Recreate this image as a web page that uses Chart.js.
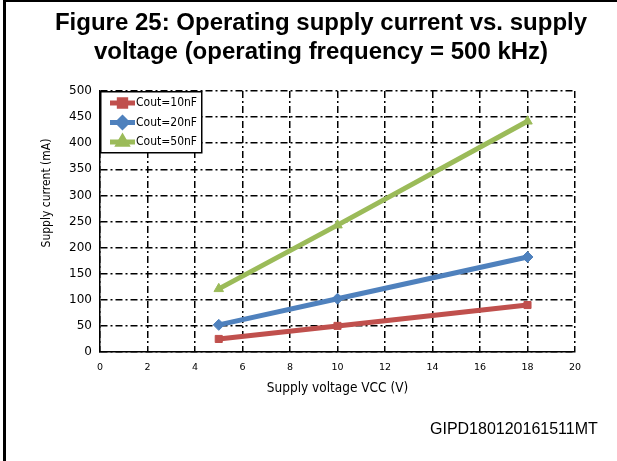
<!DOCTYPE html>
<html>
<head>
<meta charset="utf-8">
<script src="https://cdn.jsdelivr.net/npm/chart.js@4/dist/chart.umd.min.js"></script>
<style>
html,body{margin:0;padding:0;background:#fff;}
#wrap{position:relative;width:617px;height:461px;overflow:hidden;}
#frameL{position:absolute;left:3px;top:0;width:3px;height:461px;background:#000;}
#frameT{position:absolute;left:3px;top:0;width:614px;height:2px;background:#000;}
#title{position:absolute;left:0;top:7px;width:642px;text-align:center;font:bold 24px "Liberation Sans",Arial,sans-serif;line-height:29px;color:#000;}
#code{position:absolute;left:430px;top:420px;font:16px "Liberation Sans",Arial,sans-serif;color:#000;}
#c{position:absolute;left:0;top:0;}
</style>
</head>
<body>
<div id="wrap">
<canvas id="c" width="617" height="461"></canvas>
<div id="frameL"></div><div id="frameT"></div>
<div id="title">Figure 25: Operating supply current vs. supply<br>voltage (operating frequency = 500 kHz)</div>
<div id="code">GIPD180120161511MT</div>
</div>
<script>
const voltages = [5, 10, 18];
const current10nF = [25, 50, 90];
const current20nF = [52, 102, 182];
const current50nF = [121, 243, 442];
const seriesLabels = ["Cout=10nF", "Cout=20nF", "Cout=50nF"];
const xTicks = [0, 2, 4, 6, 8, 10, 12, 14, 16, 18, 20];
const yTicks = [0, 50, 100, 150, 200, 250, 300, 350, 400, 450, 500];
const yTitle = "Supply current (mA)";
const xTitle = "Supply voltage VCC (V)";

const colors = ["#C0504D", "#4F81BD", "#9BBB59"];
const styles = ["rect", "rectRot", "triangle"];
const series = [current10nF, current20nF, current50nF];

const datasets = series.map((vals, i) => ({
  label: seriesLabels[i],
  data: voltages.map((v, j) => ({x: v, y: vals[j]})),
  borderColor: colors[i],
  backgroundColor: colors[i],
  borderWidth: 5,
  pointStyle: styles[i],
  pointRadius: i === 0 ? 5 : 5.5,
  pointBorderWidth: 1,
  tension: 0
}));

const condensed = '"DejaVu Sans Condensed","DejaVu Sans",sans-serif';

const legendPlugin = {
  id: 'boxLegend',
  afterDraw(chart) {
    const ctx = chart.ctx;
    const a = chart.chartArea;
    const x0 = a.left, y0 = a.top, w = 101, h = 61;
    ctx.save();
    ctx.fillStyle = '#fff';
    ctx.fillRect(x0, y0, w, h);
    ctx.strokeStyle = '#000';
    ctx.lineWidth = 1.5;
    ctx.strokeRect(x0 + 0.75, y0 + 0.75, w, h);
    chart.data.datasets.forEach((ds, i) => {
      const yy = y0 + 12 + i * 19.5;
      ctx.strokeStyle = ds.borderColor;
      ctx.lineWidth = 5;
      ctx.beginPath();
      ctx.moveTo(x0 + 10, yy);
      ctx.lineTo(x0 + 35, yy);
      ctx.stroke();
      Chart.helpers.drawPoint(ctx, {pointStyle: ds.pointStyle, radius: 4.5, rotation: 0, borderWidth: 1}, x0 + 22.5, yy);
      ctx.fillStyle = ds.borderColor;
      ctx.fill();
      ctx.fillStyle = '#000';
      ctx.font = '12px ' + condensed;
      ctx.textBaseline = 'middle';
      ctx.textAlign = 'left';
      ctx.fillText(ds.label, x0 + 36, yy);
    });
    // y axis title
    ctx.translate(47, 193);
    ctx.rotate(-Math.PI / 2);
    ctx.fillStyle = '#000';
    ctx.font = '12px ' + condensed;
    ctx.textAlign = 'center';
    ctx.textBaseline = 'middle';
    ctx.fillText(yTitle, 0, 0);
    ctx.restore();
  }
};

const gridDash = [7, 3, 2, 3];

new Chart(document.getElementById('c'), {
  type: 'line',
  data: {datasets},
  options: {
    responsive: false,
    animation: false,
    layout: {padding: {top: 91, left: 30, right: 42, bottom: 64}},
    plugins: {legend: {display: false}, tooltip: {enabled: false}},
    scales: {
      x: {
        type: 'linear', min: 0, max: 20,
        afterBuildTicks: s => { s.ticks = xTicks.map(v => ({value: v})); },
        afterFit: s => { s.height = 45; },
        ticks: {font: {family: '"DejaVu Sans",sans-serif', size: 9.5}, color: '#000', padding: 10, maxRotation: 0, autoSkip: false},
        grid: {color: '#000', lineWidth: 1.5, drawTicks: false},
        border: {display: true, color: '#000', width: 1.5, dash: gridDash},
        title: {display: true, text: xTitle, font: {family: condensed, size: 13.5}, color: '#000', padding: {top: 3, bottom: 0}}
      },
      y: {
        type: 'linear', min: 0, max: 500,
        afterBuildTicks: s => { s.ticks = yTicks.map(v => ({value: v})); },
        afterFit: s => { s.width = 70; },
        ticks: {font: {family: '"DejaVu Sans",sans-serif', size: 12}, color: '#000', padding: 8, autoSkip: false},
        grid: {color: '#000', lineWidth: 1.5, drawTicks: false},
        border: {display: true, color: '#000', width: 1.5, dash: gridDash},
        title: {display: false}
      }
    }
  },
  plugins: [legendPlugin]
});
</script>
</body>
</html>
